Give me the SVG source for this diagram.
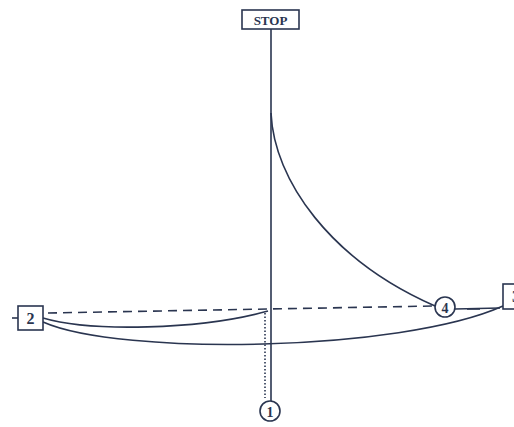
<svg xmlns="http://www.w3.org/2000/svg" width="514" height="427" viewBox="0 0 514 427">
<style>
.ln{fill:none;stroke:#2a3550;stroke-width:1.6}
.bx{fill:#fff;stroke:#2a3550;stroke-width:1.6}
.t{font-family:"Liberation Serif",serif;font-weight:bold;fill:#2a3550;text-anchor:middle}
</style>
<rect width="514" height="427" fill="#fff"/>
<g id="connectors">
<line class="ln" x1="271" y1="29" x2="271" y2="401" stroke-width="2"/>
<line class="ln" x1="265" y1="313" x2="265" y2="398" stroke-dasharray="1.5 2" stroke-width="1.2"/>
<line class="ln" x1="12" y1="318" x2="18" y2="318"/>
<path class="ln" d="M48,313 L434,306" stroke-dasharray="9 6" stroke-width="2"/>
<path class="ln" d="M271,113 C274,180 330,260 435,306"/>
<path class="ln" d="M43,318 C90,332 200,330 268,311"/>
<path class="ln" d="M43,322 C120,356 400,352 503,306"/>
<path class="ln" d="M455,309 L500,308" stroke-width="2.4"/>
<path class="ln" d="M467,309 L480,309" stroke-width="3.5"/>
</g>
<g id="stop">
<rect class="bx" x="242" y="10" width="57" height="19"/>
<text class="t" x="270.5" y="24.5" font-size="13">STOP</text>
</g>
<g id="n2">
<rect class="bx" x="18" y="306" width="25" height="24"/>
<text class="t" x="30.5" y="324" font-size="16">2</text>
</g>
<g id="n3">
<rect class="bx" x="503" y="284" width="20" height="25"/>
<text class="t" x="516" y="302" font-size="16">3</text>
</g>
<g id="n4">
<circle class="bx" cx="445" cy="307" r="10"/>
<text class="t" x="445" y="312.5" font-size="14">4</text>
</g>
<g id="n1">
<circle class="bx" cx="270" cy="411" r="10"/>
<text class="t" x="270" y="416.5" font-size="14">1</text>
</g>
</svg>
